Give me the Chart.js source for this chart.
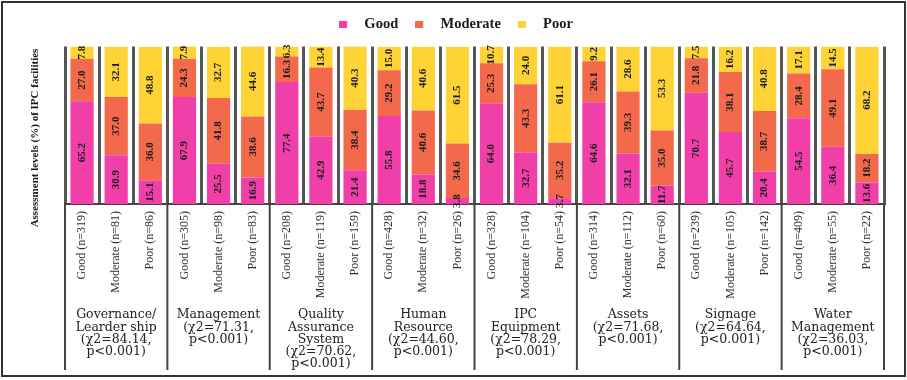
<!DOCTYPE html>
<html>
<head>
<meta charset="utf-8">
<script src="https://cdn.jsdelivr.net/npm/chart.js@4/dist/chart.umd.min.js"></script>
<style>
  html, body { margin: 0; padding: 0; background: #fff; }
  #wrap { width: 907px; height: 380px; position: relative; }
</style>
</head>
<body>
<div id="wrap"><canvas id="c" width="907" height="380"></canvas></div>
<script>
// ---- data ----
const categories = [
  "Good (n=319)", "Moderate (n=81)", "Poor (n=86)",
  "Good (n=305)", "Moderate (n=98)", "Poor (n=83)",
  "Good (n=208)", "Moderate (n=119)", "Poor (n=159)",
  "Good (n=428)", "Moderate (n=32)", "Poor (n=26)",
  "Good (n=328)", "Moderate (n=104)", "Poor (n=54)",
  "Good (n=314)", "Moderate (n=112)", "Poor (n=60)",
  "Good (n=239)", "Moderate (n=105)", "Poor (n=142)",
  "Good (n=409)", "Moderate (n=55)", "Poor (n=22)"
];
const goodValues = [65.2, 30.9, 15.1, 67.9, 25.5, 16.9, 77.4, 42.9, 21.4, 55.8, 18.8, 3.8,
                    64.0, 32.7, 3.7, 64.6, 32.1, 11.7, 70.7, 45.7, 20.4, 54.5, 36.4, 13.6];
const moderateValues = [27.0, 37.0, 36.0, 24.3, 41.8, 38.6, 16.3, 43.7, 38.4, 29.2, 40.6, 34.6,
                        25.3, 43.3, 35.2, 26.1, 39.3, 35.0, 21.8, 38.1, 38.7, 28.4, 49.1, 18.2];
const poorValues = [7.8, 32.1, 48.8, 7.9, 32.7, 44.6, 6.3, 13.4, 40.3, 15.0, 40.6, 61.5,
                    10.7, 24.0, 61.1, 9.2, 28.6, 53.3, 7.5, 16.2, 40.8, 17.1, 14.5, 68.2];
const groupLabels = [
  ["Governance/", "Learder ship", "(\u03C72=84.14,", "p<0.001)"],
  ["Management", "(\u03C72=71.31,", "p<0.001)"],
  ["Quality", "Assurance", "System", "(\u03C72=70.62,", "p<0.001)"],
  ["Human", "Resource", "(\u03C72=44.60,", "p<0.001)"],
  ["IPC", "Equipment", "(\u03C72=78.29,", "p<0.001)"],
  ["Assets", "(\u03C72=71.68,", "p<0.001)"],
  ["Signage", "(\u03C72=64.64,", "p<0.001)"],
  ["Water", "Management", "(\u03C72=36.03,", "p<0.001)"]
];
const seriesNames = ["Good", "Moderate", "Poor"];
const yTitle = "Assessment levels (%) of IPC facilities";

const colors = ["#F03FA9", "#F3694B", "#FFD336"];
const SERIF = "'Liberation Serif', 'Times New Roman', serif";

// legend markers: small square on the left of a wider box (gives the wide gap before the text)
const legendMarks = colors.map(c => {
  const cv = document.createElement('canvas');
  cv.width = 18; cv.height = 7;
  const g = cv.getContext('2d');
  g.fillStyle = c;
  g.fillRect(0, 0, 8, 7);
  return cv;
});

// ---- plugins ----
const dataLabelPlugin = {
  id: 'segLabels',
  afterDatasetsDraw(chart) {
    const ctx = chart.ctx;
    ctx.save();
    ctx.font = "bold 11px " + SERIF;
    ctx.fillStyle = "#1a1a1a";
    ctx.textAlign = "center";
    ctx.textBaseline = "middle";
    chart.data.datasets.forEach((ds, di) => {
      const meta = chart.getDatasetMeta(di);
      meta.data.forEach((el, i) => {
        const v = ds.data[i];
        const cy = (el.y + el.base) / 2;
        ctx.save();
        ctx.translate(el.x, cy);
        ctx.rotate(-Math.PI / 2);
        ctx.fillText(v.toFixed(1), 0, 0);
        ctx.restore();
      });
    });
    ctx.restore();
  }
};

const decorPlugin = {
  id: 'decor',
  afterDraw(chart) {
    const ctx = chart.ctx;
    const xs = chart.scales.x;
    const area = chart.chartArea;
    ctx.save();
    // group separators below axis
    ctx.strokeStyle = "#444";
    ctx.lineWidth = 2;
    const n = categories.length;
    for (let g = 0; g <= groupLabels.length; g++) {
      const idx = g * 3;
      let x;
      if (idx === 0) x = area.left;
      else if (idx >= n) x = area.right;
      else x = (xs.getPixelForValue(idx - 1) + xs.getPixelForValue(idx)) / 2;
      ctx.beginPath();
      ctx.moveTo(x, area.bottom);
      ctx.lineTo(x, 370);
      ctx.stroke();
    }
    // group labels
    ctx.font = "12.5px 'DejaVu Serif', serif";
    ctx.fillStyle = "#222";
    ctx.textAlign = "center";
    ctx.textBaseline = "middle";
    groupLabels.forEach((lines, g) => {
      const cx = xs.getPixelForValue(g * 3 + 1);
      lines.forEach((t, li) => {
        ctx.fillText(t, cx, 315 + li * 12.3);
      });
    });
    // y title
    ctx.font = "bold 11px " + SERIF;
    ctx.fillStyle = "#1a1a1a";
    ctx.save();
    ctx.translate(35, 138);
    ctx.rotate(-Math.PI / 2);
    ctx.fillText(yTitle, 0, 0);
    ctx.restore();
    // frame
    ctx.strokeStyle = "#333";
    ctx.lineWidth = 2;
    ctx.strokeRect(2, 2, 903, 374);
    ctx.restore();
  }
};

new Chart(document.getElementById('c'), {
  type: 'bar',
  data: {
    labels: categories,
    datasets: [
      { label: seriesNames[0], data: goodValues, backgroundColor: colors[0] },
      { label: seriesNames[1], data: moderateValues, backgroundColor: colors[1] },
      { label: seriesNames[2], data: poorValues, backgroundColor: colors[2] }
    ]
  },
  options: {
    responsive: false,
    animation: false,
    layout: { padding: { left: 28, right: 23, top: 0, bottom: 0 } },
    datasets: { bar: { barPercentage: 0.68, categoryPercentage: 1.0 } },
    plugins: {
      legend: {
        display: true,
        position: 'top',
        labels: {
          usePointStyle: true,
          pointStyleWidth: 18,
          boxWidth: 18, boxHeight: 7, padding: 17,
          color: "#1a1a1a",
          font: { family: SERIF, size: 14.5, weight: 'bold' },
          generateLabels(chart) {
            const items = Chart.defaults.plugins.legend.labels.generateLabels(chart);
            items.forEach((it, i) => { it.pointStyle = legendMarks[i]; });
            return items;
          }
        }
      },
      tooltip: { enabled: false }
    },
    scales: {
      x: {
        stacked: true,
        offset: true,
        grid: { display: true, offset: true, color: "#555", lineWidth: 3, drawTicks: false },
        border: { display: true, color: "#444", width: 2 },
        ticks: {
          minRotation: 90, maxRotation: 90, autoSkip: false, padding: 7,
          color: "#333",
          font: { family: SERIF, size: 12 }
        },
        afterFit(scale) { scale.height = 176; }
      },
      topGap: {
        type: 'linear',
        position: 'top',
        display: true,
        grid: { display: false },
        border: { display: false },
        ticks: { display: false },
        afterFit(scale) { scale.height = 5; }
      },
      y: {
        stacked: true,
        display: true,
        min: 0, max: 100,
        grid: { display: false },
        border: { display: false },
        ticks: { display: false },
        afterFit(scale) { scale.width = 37; }
      }
    }
  },
  plugins: [dataLabelPlugin, decorPlugin]
});
</script>
</body>
</html>
